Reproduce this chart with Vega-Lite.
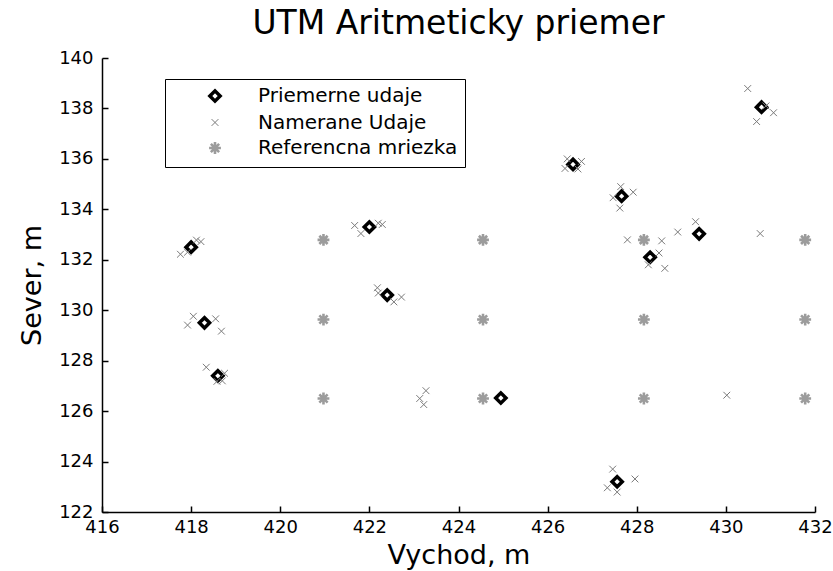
{
  "$schema": "https://vega.github.io/schema/vega-lite/v6.json",
  "autosize": {"type": "none"},
  "width": 713,
  "height": 454,
  "padding": {"left": 102, "top": 58, "right": 18, "bottom": 59},
  "background": "white",
  "title": {"text": "UTM Aritmeticky priemer", "font": "DejaVu Sans", "fontSize": 33, "fontWeight": "normal", "color": "black", "anchor": "middle", "offset": 8},
  "config": {
    "view": {"stroke": null},
    "axis": {
      "domainColor": "black", "domainWidth": 1.5, "tickColor": "black", "tickWidth": 1.5,
      "tickSize": -6, "grid": false, "labelFont": "DejaVu Sans", "labelFontSize": 18, "labelColor": "black",
      "titleFont": "DejaVu Sans", "titleFontSize": 27, "titleFontWeight": "normal", "titleColor": "black"
    },
    "legend": {"strokeColor": "black", "fillColor": "white"}
  },
  "datasets": {
    "mean": [
      {"x": 418.0, "y": 132.5, "series": "Priemerne udaje"},
      {"x": 418.3, "y": 129.5, "series": "Priemerne udaje"},
      {"x": 418.6, "y": 127.4, "series": "Priemerne udaje"},
      {"x": 422.0, "y": 133.3, "series": "Priemerne udaje"},
      {"x": 422.4, "y": 130.6, "series": "Priemerne udaje"},
      {"x": 424.95, "y": 126.52, "series": "Priemerne udaje"},
      {"x": 426.57, "y": 135.78, "series": "Priemerne udaje"},
      {"x": 427.66, "y": 134.52, "series": "Priemerne udaje"},
      {"x": 427.56, "y": 123.2, "series": "Priemerne udaje"},
      {"x": 428.3, "y": 132.1, "series": "Priemerne udaje"},
      {"x": 429.4, "y": 133.03, "series": "Priemerne udaje"},
      {"x": 430.8, "y": 138.05, "series": "Priemerne udaje"}
    ],
    "meas": [
      {"x": 417.76, "y": 132.22, "series": "Namerane Udaje"},
      {"x": 418.12, "y": 132.78, "series": "Namerane Udaje"},
      {"x": 418.22, "y": 132.72, "series": "Namerane Udaje"},
      {"x": 417.92, "y": 132.3, "series": "Namerane Udaje"},
      {"x": 417.92, "y": 129.41, "series": "Namerane Udaje"},
      {"x": 418.05, "y": 129.76, "series": "Namerane Udaje"},
      {"x": 418.68, "y": 129.17, "series": "Namerane Udaje"},
      {"x": 418.55, "y": 129.66, "series": "Namerane Udaje"},
      {"x": 418.34, "y": 127.74, "series": "Namerane Udaje"},
      {"x": 418.58, "y": 127.18, "series": "Namerane Udaje"},
      {"x": 418.75, "y": 127.5, "series": "Namerane Udaje"},
      {"x": 418.7, "y": 127.2, "series": "Namerane Udaje"},
      {"x": 421.67, "y": 133.36, "series": "Namerane Udaje"},
      {"x": 421.81, "y": 133.04, "series": "Namerane Udaje"},
      {"x": 422.29, "y": 133.4, "series": "Namerane Udaje"},
      {"x": 422.2, "y": 133.45, "series": "Namerane Udaje"},
      {"x": 422.18, "y": 130.89, "series": "Namerane Udaje"},
      {"x": 422.55, "y": 130.33, "series": "Namerane Udaje"},
      {"x": 422.72, "y": 130.52, "series": "Namerane Udaje"},
      {"x": 422.2, "y": 130.68, "series": "Namerane Udaje"},
      {"x": 423.27, "y": 126.81, "series": "Namerane Udaje"},
      {"x": 423.13, "y": 126.5, "series": "Namerane Udaje"},
      {"x": 423.22, "y": 126.26, "series": "Namerane Udaje"},
      {"x": 430.02, "y": 126.63, "series": "Namerane Udaje"},
      {"x": 426.44, "y": 136.0, "series": "Namerane Udaje"},
      {"x": 426.76, "y": 135.9, "series": "Namerane Udaje"},
      {"x": 426.39, "y": 135.62, "series": "Namerane Udaje"},
      {"x": 426.68, "y": 135.6, "series": "Namerane Udaje"},
      {"x": 427.64, "y": 134.9, "series": "Namerane Udaje"},
      {"x": 427.92, "y": 134.68, "series": "Namerane Udaje"},
      {"x": 427.47, "y": 134.46, "series": "Namerane Udaje"},
      {"x": 427.62, "y": 134.05, "series": "Namerane Udaje"},
      {"x": 427.46, "y": 123.7, "series": "Namerane Udaje"},
      {"x": 427.96, "y": 123.31, "series": "Namerane Udaje"},
      {"x": 427.34, "y": 122.96, "series": "Namerane Udaje"},
      {"x": 427.56, "y": 122.79, "series": "Namerane Udaje"},
      {"x": 428.5, "y": 132.27, "series": "Namerane Udaje"},
      {"x": 428.26, "y": 131.8, "series": "Namerane Udaje"},
      {"x": 428.63, "y": 131.66, "series": "Namerane Udaje"},
      {"x": 427.79, "y": 132.79, "series": "Namerane Udaje"},
      {"x": 429.32, "y": 133.51, "series": "Namerane Udaje"},
      {"x": 428.92, "y": 133.1, "series": "Namerane Udaje"},
      {"x": 430.77, "y": 133.04, "series": "Namerane Udaje"},
      {"x": 428.56, "y": 132.75, "series": "Namerane Udaje"},
      {"x": 430.49, "y": 138.79, "series": "Namerane Udaje"},
      {"x": 431.07, "y": 137.83, "series": "Namerane Udaje"},
      {"x": 430.69, "y": 137.48, "series": "Namerane Udaje"},
      {"x": 430.9, "y": 138.1, "series": "Namerane Udaje"}
    ],
    "grid": [
      {"x": 420.97, "y": 126.5, "series": "Referencna mriezka"},
      {"x": 420.97, "y": 129.63, "series": "Referencna mriezka"},
      {"x": 420.97, "y": 132.79, "series": "Referencna mriezka"},
      {"x": 424.55, "y": 126.5, "series": "Referencna mriezka"},
      {"x": 424.55, "y": 129.63, "series": "Referencna mriezka"},
      {"x": 424.55, "y": 132.79, "series": "Referencna mriezka"},
      {"x": 428.16, "y": 126.5, "series": "Referencna mriezka"},
      {"x": 428.16, "y": 129.63, "series": "Referencna mriezka"},
      {"x": 428.16, "y": 132.79, "series": "Referencna mriezka"},
      {"x": 431.78, "y": 126.5, "series": "Referencna mriezka"},
      {"x": 431.78, "y": 129.63, "series": "Referencna mriezka"},
      {"x": 431.78, "y": 132.79, "series": "Referencna mriezka"}
    ]
  },
  "encoding": {
    "x": {"field": "x", "type": "quantitative", "title": "Vychod, m",
      "scale": {"domain": [416, 432], "nice": false, "zero": false},
      "axis": {"values": [416, 418, 420, 422, 424, 426, 428, 430, 432], "labelPadding": 12, "titlePadding": 6, "labelFlush": false}},
    "y": {"field": "y", "type": "quantitative", "title": "Sever, m",
      "scale": {"domain": [122, 140], "nice": false, "zero": false},
      "axis": {"values": [122, 124, 126, 128, 130, 132, 134, 136, 138, 140], "labelPadding": 15, "titlePadding": 12, "labelFlush": false}},
    "color": {"field": "series", "type": "nominal",
      "scale": {"domain": ["Priemerne udaje", "Namerane Udaje", "Referencna mriezka"], "range": ["black", "#7a7a7a", "#9c9c9c"]},
      "legend": {"title": null, "orient": "none", "legendX": 63, "legendY": 21,
        "padding": 7, "rowPadding": 3.5, "symbolOffset": 33, "labelOffset": 33, "labelFont": "DejaVu Sans", "labelFontSize": 20, "labelColor": "black", "labelLimit": 400}},
    "shape": {"field": "series", "type": "nominal",
      "scale": {"domain": ["Priemerne udaje", "Namerane Udaje", "Referencna mriezka"], "range": ["diamond", "M-1,-1L1,1M-1,1L1,-1", "M-1,0L1,0M0,-1L0,1M-0.7,-0.7L0.7,0.7M-0.7,0.7L0.7,-0.7"]}},
    "size": {"field": "series", "type": "nominal",
      "scale": {"type": "ordinal", "domain": ["Priemerne udaje", "Namerane Udaje", "Referencna mriezka"], "range": [105, 46, 140]}},
    "strokeWidth": {"field": "series", "type": "nominal",
      "scale": {"type": "ordinal", "domain": ["Priemerne udaje", "Namerane Udaje", "Referencna mriezka"], "range": [3.5, 1, 2.6]}}
  },
  "layer": [
    {"data": {"name": "mean"}, "mark": {"type": "point", "filled": false, "fill": "white", "opacity": 1}},
    {"data": {"name": "meas"}, "mark": {"type": "point", "filled": false, "opacity": 1}},
    {"data": {"name": "grid"}, "mark": {"type": "point", "filled": false, "opacity": 1}}
  ]
}
